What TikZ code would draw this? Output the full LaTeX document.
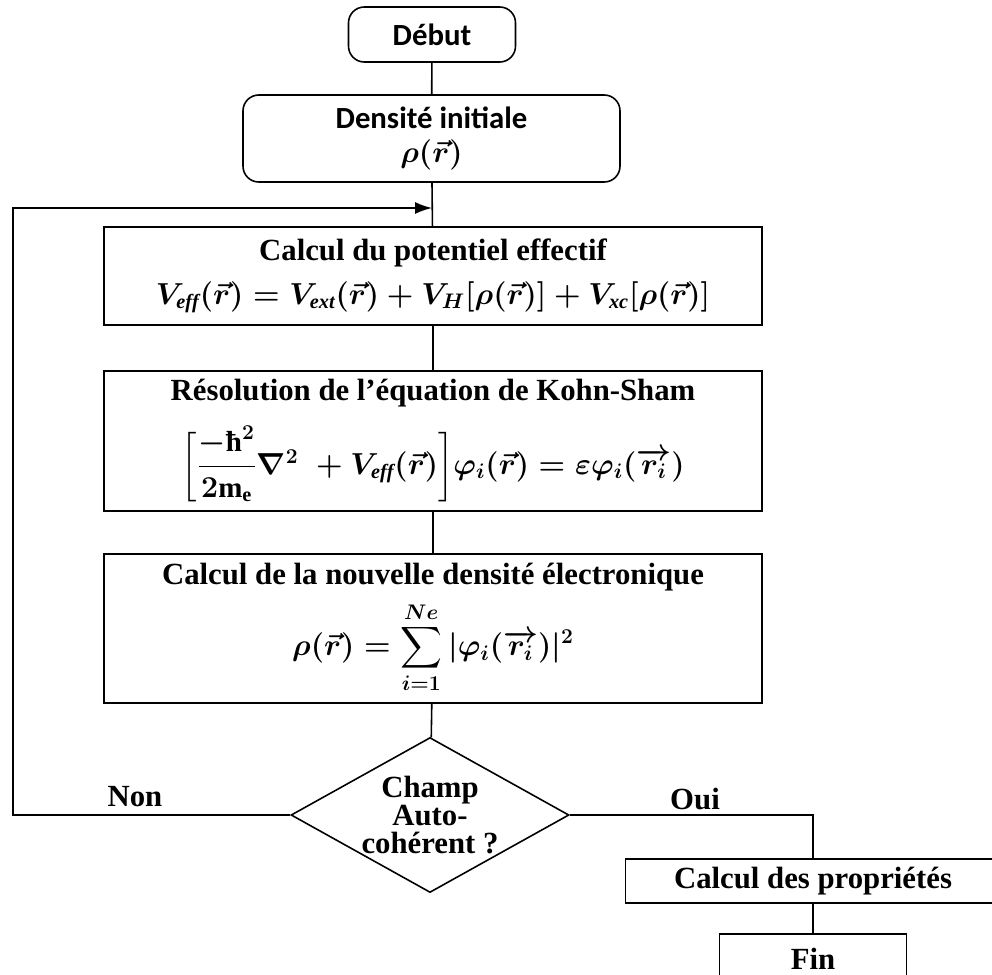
\documentclass[tikz,border=0pt]{standalone}
\usepackage{amsmath,amssymb,bm}
\usepackage{fontspec}
\setmainfont{Liberation Serif}
\newfontfamily\carlito{Carlito}
\newcommand{\eqsize}{\fontsize{16.5}{20}\selectfont\boldmath}
\usetikzlibrary{shapes.geometric,arrows.meta}

\begin{document}
\begin{tikzpicture}[
  box/.style={rectangle, draw, line width=0.9pt, minimum width=13.16cm,
              align=center, inner sep=4pt,
              font=\fontsize{17.5}{21}\selectfont\bfseries},
  rbox/.style={rectangle, draw, line width=0.9pt, rounded corners=9pt,
               align=center, inner sep=4pt,
               font=\fontsize{17.5}{21}\selectfont\carlito\bfseries},
  decision/.style={diamond, draw, line width=0.9pt, aspect=1.8, inner sep=0pt,
                   minimum width=5.56cm, minimum height=3.1cm, align=center,
                   font=\fontsize{17.5}{15.8}\selectfont\bfseries},
  lbl/.style={font=\fontsize{17.5}{21}\selectfont\bfseries},
  line/.style={line width=0.9pt},
  arr/.style={-{Latex[length=3.4mm,width=2.4mm]}, line width=0.9pt}
]
\useasboundingbox (0,0) rectangle (19.84,-19.48);

\node[rbox, minimum width=3.34cm, minimum height=1.1cm] (debut) at (8.64,-0.69) {D\'ebut};
\node[rbox, minimum width=7.54cm, minimum height=1.74cm] (init) at (8.63,-2.77) {
  Densit\'e initiale\\[-2pt]
  {\eqsize$\rho(\vec{r})$}
};
\node[box, minimum height=1.96cm] (veff) at (8.66,-5.52) {
  Calcul du potentiel effectif\\[4pt]
  {\eqsize$V_{\mathit{eff}}(\vec{r}) = V_{\mathit{ext}}(\vec{r}) + V_{H}[\rho(\vec{r})] + V_{\mathit{xc}}[\rho(\vec{r})]$}
};
\node[box, minimum height=2.8cm] (ks) at (8.66,-8.82) {
  R\'esolution de l'\'equation de Kohn-Sham\\[10pt]
  {\eqsize$\biggl[\dfrac{-\text{\bfseries ħ}^{2}}{2\mathrm{m_e}}\nabla^{2}\; + V_{\mathit{eff}}(\vec{r})\biggr]\bm{\varphi}_{i}(\vec{r}) = \bm{\varepsilon}\bm{\varphi}_{i}(\overrightarrow{r_{i}})$}
};
\node[box, minimum height=2.98cm] (dens) at (8.66,-12.57) {
  Calcul de la nouvelle densit\'e \'electronique\\[5pt]
  {\eqsize$\displaystyle\rho(\vec{r}) = \sum_{i=1}^{Ne}|\bm{\varphi}_{i}(\overrightarrow{r_{i}})|^{2}$}
};
\node[decision] (scf) at (8.6,-16.3) {Champ\\Auto-\\coh\'erent ?};
\node[box, minimum width=7.5cm, minimum height=0.88cm] (prop) at (16.26,-17.62) {Calcul des propri\'et\'es};
\node[box, minimum width=3.74cm, minimum height=1.0cm] (fin) at (16.26,-19.18) {Fin};

\coordinate (fb) at (8.64,-4.16);
\coordinate (back) at (0.26,-16.3);

\draw[line] (debut) -- (init);
\draw[line] (init) -- (veff);
\draw[line] (veff) -- (ks);
\draw[line] (ks) -- (dens);
\draw[line] (dens) -- (scf);
\draw[arr] (scf.west) -- (back) |- (fb);
\draw[line] (scf.east) -| (prop.north);
\draw[line] (prop) -- (fin);

\node[lbl] (non) at (2.7,-15.94) {Non};
\node[lbl] (oui) at (13.9,-15.98) {Oui};
\end{tikzpicture}
\end{document}
